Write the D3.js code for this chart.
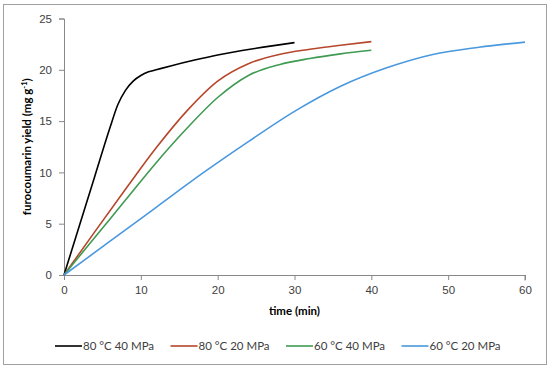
<!DOCTYPE html>
<html>
<head>
<meta charset="utf-8">
<script src="https://cdn.jsdelivr.net/npm/d3@7"></script>
<style>
  body { margin: 0; background: #fff; }
  svg { font-family: Lato, "Liberation Sans", sans-serif; }
</style>
</head>
<body>
<div id="chart"></div>
<script>
// Series: [time (min), yield (mg/g)]
var series80_40 = [[0,0],[2,4.8],[4,9.6],[6,14.4],[7,16.6],[8,18.0],[9,18.9],[10,19.45],[11,19.8],[12,20.0],[14,20.4],[17,20.95],[20,21.45],[25,22.1],[30,22.65]];
var series80_20 = [[0,0],[4,4.2],[8,8.35],[12,12.4],[16,16.0],[20,18.9],[24,20.6],[28,21.5],[32,22.0],[36,22.4],[40,22.75]];
var series60_40 = [[0,0],[4,3.65],[8,7.3],[12,10.95],[16,14.3],[20,17.3],[24,19.45],[28,20.5],[32,21.1],[36,21.55],[40,21.9]];
var series60_20 = [[0,0],[6,3.3],[12,6.6],[18,9.9],[24,13.0],[30,15.95],[36,18.4],[42,20.2],[48,21.5],[54,22.2],[60,22.7]];

var seriesNames = ["80 °C 40 MPa", "80 °C 20 MPa", "60 °C 40 MPa", "60 °C 20 MPa"];
var seriesColors = ["#000000", "#b5472b", "#3f9a52", "#4a98de"];
var allSeries = [series80_40, series80_20, series60_40, series60_20];

var xTicks = [0, 10, 20, 30, 40, 50, 60];
var yTicks = [0, 5, 10, 15, 20, 25];

var width = 550, height = 370;
var margin = {left: 64, right: 25, top: 18.5, bottom: 95};

var svg = d3.select("#chart").append("svg").attr("width", width).attr("height", height);

// outer frame
svg.append("rect")
    .attr("x", 3.5).attr("y", 4.5)
    .attr("width", 543).attr("height", 360)
    .attr("fill", "none").attr("stroke", "#a0a0a0").attr("stroke-width", 1);

var x = d3.scaleLinear().domain([0, 60]).range([margin.left, width - margin.right]);
var y = d3.scaleLinear().domain([0, 25]).range([height - margin.bottom, margin.top]);

// axes
var xAxis = svg.append("g")
    .attr("transform", "translate(0," + y(0) + ")")
    .call(d3.axisBottom(x).tickValues(xTicks).tickSize(5).tickPadding(6));
var yAxis = svg.append("g")
    .attr("transform", "translate(" + x(0) + ",0)")
    .call(d3.axisLeft(y).tickValues(yTicks).tickSize(5).tickPadding(7));

[xAxis, yAxis].forEach(function(ax) {
    ax.selectAll("path, line").attr("stroke", "#888888");
    ax.selectAll("text").attr("fill", "#404040").style("font-size", "11.5px");
});
xAxis.select(".domain").attr("d", "M" + x(0) + ",0.5H" + x(60) + "V5.5");

// lines
var line = d3.line()
    .x(function(d) { return x(d[0]); })
    .y(function(d) { return y(d[1]); })
    .curve(d3.curveMonotoneX);

svg.append("g").selectAll("path")
    .data(allSeries)
    .enter().append("path")
    .attr("d", line)
    .attr("fill", "none")
    .attr("stroke", function(d, i) { return seriesColors[i]; })
    .attr("stroke-width", 1.6);

// axis titles
svg.append("text")
    .attr("x", (x(0) + x(60)) / 2).attr("y", 315)
    .attr("text-anchor", "middle")
    .style("font-size", "11.5px").style("font-weight", "bold")
    .attr("fill", "#000")
    .text("time (min)");

var yLab = svg.append("text")
    .attr("transform", "translate(31," + ((y(0) + y(25)) / 2) + ") rotate(-90)")
    .attr("text-anchor", "middle")
    .style("font-size", "11.5px").style("font-weight", "bold")
    .attr("fill", "#000");
yLab.append("tspan").text("furocoumarin yield (mg g");
yLab.append("tspan").attr("dy", -4).style("font-size", "7.5px").text("-1");
yLab.append("tspan").attr("dy", 4).text(")");

// legend
var legend = svg.append("g").selectAll("g")
    .data(seriesNames)
    .enter().append("g")
    .attr("transform", function(d, i) { return "translate(" + (55 + i * 115.5) + ",346)"; });

legend.append("line")
    .attr("x1", 0).attr("x2", 27)
    .attr("stroke", function(d, i) { return seriesColors[i]; })
    .attr("stroke-width", 1.6);

legend.append("text")
    .attr("x", 28).attr("dy", "0.35em")
    .style("font-size", "11.5px")
    .attr("fill", "#404040")
    .text(function(d) { return d; });
</script>
</body>
</html>
